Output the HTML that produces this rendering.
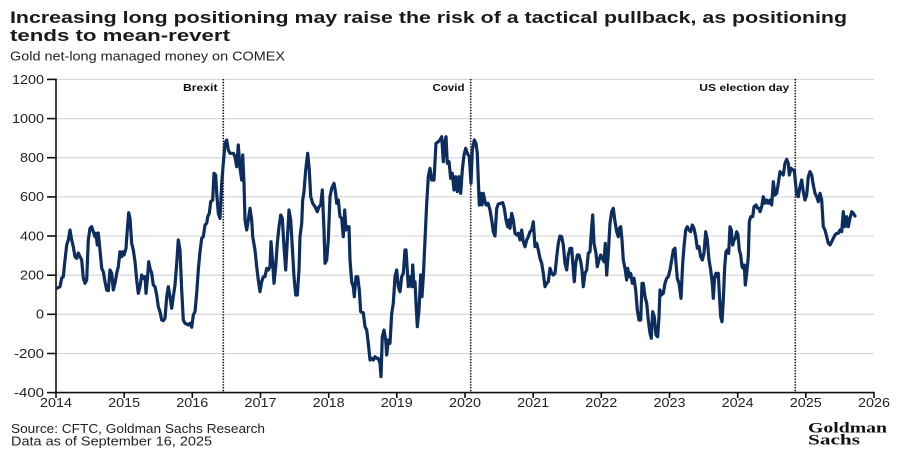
<!DOCTYPE html>
<html><head><meta charset="utf-8"><style>
html,body{margin:0;padding:0;background:#fff;}
svg{display:block;}
</style></head><body>
<svg width="900" height="451" viewBox="0 0 900 451" xmlns="http://www.w3.org/2000/svg" font-family="Liberation Sans, sans-serif">
<rect width="900" height="451" fill="#fff"/>
<!-- Title -->
<text x="10" y="23" font-size="17" font-weight="bold" fill="#1a1a1a" textLength="837" lengthAdjust="spacingAndGlyphs">Increasing long positioning may raise the risk of a tactical pullback, as positioning</text>
<text x="10" y="41" font-size="17" font-weight="bold" fill="#1a1a1a" textLength="220" lengthAdjust="spacingAndGlyphs">tends to mean-revert</text>
<text x="10" y="60.5" font-size="12.5" fill="#222" textLength="275" lengthAdjust="spacingAndGlyphs">Gold net-long managed money on COMEX</text>

<!-- gridlines -->
<g stroke="#d9d9d9" stroke-width="1.3">
<line x1="56" y1="79.4" x2="874" y2="79.4"/>
<line x1="56" y1="118.6" x2="874" y2="118.6"/>
<line x1="56" y1="157.7" x2="874" y2="157.7"/>
<line x1="56" y1="196.9" x2="874" y2="196.9"/>
<line x1="56" y1="236" x2="874" y2="236"/>
<line x1="56" y1="275.2" x2="874" y2="275.2"/>
<line x1="56" y1="314.3" x2="874" y2="314.3"/>
<line x1="56" y1="353.5" x2="874" y2="353.5"/>
</g>

<!-- y labels -->
<g font-size="12.5" fill="#222" text-anchor="end">
<text x="44" y="84" textLength="32" lengthAdjust="spacingAndGlyphs">1200</text>
<text x="44" y="123" textLength="32" lengthAdjust="spacingAndGlyphs">1000</text>
<text x="44" y="162" textLength="24" lengthAdjust="spacingAndGlyphs">800</text>
<text x="44" y="201" textLength="24" lengthAdjust="spacingAndGlyphs">600</text>
<text x="44" y="240.5" textLength="24" lengthAdjust="spacingAndGlyphs">400</text>
<text x="44" y="279.5" textLength="24" lengthAdjust="spacingAndGlyphs">200</text>
<text x="44" y="318.5" textLength="8" lengthAdjust="spacingAndGlyphs">0</text>
<text x="44" y="358" textLength="30" lengthAdjust="spacingAndGlyphs">-200</text>
<text x="44" y="397" textLength="30" lengthAdjust="spacingAndGlyphs">-400</text>
</g>

<!-- axes -->
<g stroke="#111" stroke-width="1.6">
<line x1="56" y1="78.5" x2="56" y2="393"/>
<line x1="55" y1="392.6" x2="874.5" y2="392.6"/>
<line x1="47" y1="79.4" x2="56" y2="79.4"/>
<line x1="47" y1="118.6" x2="56" y2="118.6"/>
<line x1="47" y1="157.7" x2="56" y2="157.7"/>
<line x1="47" y1="196.9" x2="56" y2="196.9"/>
<line x1="47" y1="236" x2="56" y2="236"/>
<line x1="47" y1="275.2" x2="56" y2="275.2"/>
<line x1="47" y1="314.3" x2="56" y2="314.3"/>
<line x1="47" y1="353.5" x2="56" y2="353.5"/>
<line x1="47" y1="392.6" x2="56" y2="392.6"/>
<line x1="56" y1="392" x2="56" y2="398"/>
<line x1="124.2" y1="392" x2="124.2" y2="398"/>
<line x1="192.3" y1="392" x2="192.3" y2="398"/>
<line x1="260.5" y1="392" x2="260.5" y2="398"/>
<line x1="328.7" y1="392" x2="328.7" y2="398"/>
<line x1="396.8" y1="392" x2="396.8" y2="398"/>
<line x1="465" y1="392" x2="465" y2="398"/>
<line x1="533.2" y1="392" x2="533.2" y2="398"/>
<line x1="601.3" y1="392" x2="601.3" y2="398"/>
<line x1="669.5" y1="392" x2="669.5" y2="398"/>
<line x1="737.7" y1="392" x2="737.7" y2="398"/>
<line x1="805.8" y1="392" x2="805.8" y2="398"/>
<line x1="874" y1="392" x2="874" y2="398"/>
</g>

<!-- x labels -->
<g font-size="12.5" fill="#222" text-anchor="middle">
<text x="56" y="407" textLength="32" lengthAdjust="spacingAndGlyphs">2014</text>
<text x="124.2" y="407" textLength="32" lengthAdjust="spacingAndGlyphs">2015</text>
<text x="192.3" y="407" textLength="32" lengthAdjust="spacingAndGlyphs">2016</text>
<text x="260.5" y="407" textLength="32" lengthAdjust="spacingAndGlyphs">2017</text>
<text x="328.7" y="407" textLength="32" lengthAdjust="spacingAndGlyphs">2018</text>
<text x="396.8" y="407" textLength="32" lengthAdjust="spacingAndGlyphs">2019</text>
<text x="465" y="407" textLength="32" lengthAdjust="spacingAndGlyphs">2020</text>
<text x="533.2" y="407" textLength="32" lengthAdjust="spacingAndGlyphs">2021</text>
<text x="601.3" y="407" textLength="32" lengthAdjust="spacingAndGlyphs">2022</text>
<text x="669.5" y="407" textLength="32" lengthAdjust="spacingAndGlyphs">2023</text>
<text x="737.7" y="407" textLength="32" lengthAdjust="spacingAndGlyphs">2024</text>
<text x="805.8" y="407" textLength="32" lengthAdjust="spacingAndGlyphs">2025</text>
<text x="874" y="407" textLength="32" lengthAdjust="spacingAndGlyphs">2026</text>
</g>

<!-- event lines -->
<g stroke="#111" stroke-width="1.6" stroke-dasharray="1.4,1.4">
<line x1="223.3" y1="79" x2="223.3" y2="392"/>
<line x1="470.7" y1="79" x2="470.7" y2="392"/>
<line x1="795.3" y1="79" x2="795.3" y2="392"/>
</g>
<g font-size="10.5" font-weight="bold" fill="#111" text-anchor="end">
<text x="217.5" y="91" textLength="34.5" lengthAdjust="spacingAndGlyphs">Brexit</text>
<text x="464.5" y="91" textLength="32" lengthAdjust="spacingAndGlyphs">Covid</text>
<text x="789.3" y="91" textLength="90" lengthAdjust="spacingAndGlyphs">US election day</text>
</g>

<!-- series -->
<polyline fill="none" stroke="#0e2d5f" stroke-width="3.2" stroke-linejoin="round" stroke-linecap="round" points="
56.7,288.3 60,286.7 61.7,278 63.3,276.7 65,260 66.7,245 68.3,240 70,230 71.7,240 73.3,246.7 75,256.7 76.7,258.3 78.3,253 80,256.7 81.7,260 83.3,278 85,283.3 86.7,280 88.3,240 90,228.3 91.7,226.7 93.3,231.7 95,236.7 96,233.3 97.3,245 98.3,233 100,250 101.7,268.3 103.3,271.7 105,281.7 106.7,290 108.3,290.7 110,270 111.7,273.3 113.3,290 115,283.3 116.7,273.3 118.3,266.7 120,251.7 121.7,256.7 122.7,251.7 124,255 126,248.3 127.3,230 128.7,212.7 130,218.3 131.7,243.3 133.3,250 135,261.7 136.7,280 138.3,293.3 140,286.7 141.7,275 143.3,278.3 145,276.7 146,293.3 147.3,280 148.7,261.7 150,268.3 151.7,273.3 153.3,285 155,286.7 156.7,295 158.3,306.7 160,311.7 161.7,320 163.3,320.7 165,318.3 166.7,296.7 168.3,286.7 170,296.7 171.7,308.3 173.3,296.7 175,285 176.7,263.3 178.3,240 180,250 181.7,290 183.3,320 185,323.3 186.7,324 188.3,325 190,323.3 191.7,327.3 193.3,315 195,311.7 196.7,293.3 198.3,270 200,251.7 201.7,238.3 203.3,236.7 205,225 206.7,223.3 207.7,216.7 209.3,213.3 210.7,201.7 212.7,200 214,173.3 215.7,175 216.7,193.3 218.3,213.3 220,218.3 221.7,183.3 223.3,163.3 225,143.3 226.7,140 228.3,150
230,153.3 233.3,153.3 235,156.7 236.7,166.7 238.3,145 240,168.3 241.7,180 242.7,155 244,183.3 245,220 246.7,230 248.3,220 250,208.3 251.7,220 252.7,236.7 255,250 256.7,266.7 258.3,280 260,291.7 261.7,281.7 263.3,276.7 265,276.7 266.7,268.3 268.3,270 270,266.7 271,241.7 272.7,263.3 274,283.3 275.7,266.7 277.3,243.3 279,226.7 280.7,215 282.3,218.3 284,246.7 285.7,270 287.3,240 289,210 290.7,220 292.3,246.7 294,276.7 295.7,295 297.3,295 299,270 300,236.7 301.7,223.3 302.7,200 304,191.7 305.7,170 307.7,153.3 309.3,170 310.7,196.7 312.7,203.3 315,206.7 317.3,211.7 319,206.7 320.7,205 322.3,190 324,230 325,263.3 326.7,260 328.3,240 330,196.7 331.7,188.3 334,183.3 335.7,193.3 336.7,203.3 338.3,200 340,216.7 341.7,218.3 343.3,236.7 344.7,210 346,230 347.3,226.7 349,226.7 350,260 351.7,281.7 353.3,286.7 354.3,296.7 356,276.7 357.7,276.7 359.3,290 360.7,311.7 363.3,312.7 365,326.7 366.7,330 368.3,343.3 370,360 371.7,358.3 373.3,360 375,356.7 376.7,358.3 378.3,358.3 380,363.3 381,376.7 382.3,336.7 384,330 385.7,340 386.7,355 388.3,340 390,343.3 391.7,313.3 393.3,303.3 395,276.7 396.7,270 398.3,286.7 400,291.7 401.7,276.7 403.3,273.3 405,250 406,250 407.3,270 408.3,286.7
410,276.7 411.7,286.7 412.7,265 414,286.7 415,281.7 416,303.3 417.3,326.7 419,310 420.7,275 422,296.7 423.3,276.7 425,240 426.7,203.3 428.3,176.7 430,168.3 431.7,180 434,180 436,143.3 438.3,141.7 440,140 441.7,136.7 443.3,161.7 444.7,143.3 446,136.7 447.3,163.3 449,161.7 450.7,178.3 452.3,173.3 454,190 455.7,176.7 457.3,191.7 459,176.7 460.7,193.3 462.3,170 464,155 465.7,148.3 467.3,153.3 469.3,156.7 471,183.3 472.3,150 474.3,140 476,143.3 477.3,153.3 478.3,180 479.3,205 480.7,193.3 482,205 483.3,193.3 484.7,200 486,205 488,203.3 490,210 491.7,220 493.3,231.7 495,236 496.7,208.3 498.3,204 500.7,203.3 502.7,202.7 504.3,208.3 506,220 507.7,226.7 509,220 510,228.3 511.7,213.3 513.3,220 515,233.3 516.7,235 518.3,233.3 520,240 521.7,230 523.3,241.7 525,246.7 526.7,240 528.3,236.7 530,231.7 531.7,230 533.3,221.7 535,246.7 536.7,243.3 538.3,250 540,258.3 541.7,263.3 543.3,273.3 545,286.7 546.7,283.3 548.3,281.7 550,268.3 551.7,273.3 553.3,275 555,273.3 556.7,256.7 558.3,243.3 560,236 561.7,236.7 563.3,245 565,263.3 566.7,270 568.3,255 570,248.3 571.7,248.3 573.3,270 574.3,281.7 575.7,263.3 577.3,255 579,255 580.7,261.7 582,270 583.3,286.7 585,273.3 586.7,270 588.3,253.3
590,251.7 591.7,226.7 592.7,215 594,243.3 596,253.3 597.3,266.7 599,260 600.7,255 602.3,258.3 604,261.7 605.3,243.3 606.7,275 608.3,253.3 610,223.3 611.7,211.7 613.3,208.3 615,221.7 616.7,231.7 618.3,236.7 619.3,228.3 620.7,226.7 622,240 623.3,260 625,268.3 626.7,280 627.7,268.3 629.3,276.7 630.7,273.3 632.3,283.3 634,278.3 635.7,290 637.3,310 639,320 640.7,320 642,283.3 643.3,283.3 645,296.7 646.7,303.3 648.3,320 650,333.3 651.3,338.3 652.7,311.7 654.3,316.7 656,335 657.7,336.7 659,316.7 660,290 661.3,295 663.3,293.3 665,283.3 666.7,278.3 668.3,276.7 670,270 671.7,260 673.3,250 675,248.3 676,263.3 677.3,278.3 679,283.3 681,298.3 682.7,263.3 684,246.7 685.7,230 687.3,226.7 689,230 690.7,231.7 692.3,225 694,228.3 695.7,236.7 697.3,248.3 699,246.7 700.7,256.7 702.3,260 704,253.3 705.7,231.7 707.3,240 709,260 710.7,270 712.3,283.3 713.3,298.3 714.7,276.7 716,273.3 717.3,276.7 718.3,273.3 719.3,293.3 720.7,316.7 722,321.7 723.3,300 724.7,266.7 726,251.7 727.3,250 728.7,253.3 730,226.7 731.3,230 732.7,245 734,240 735.3,238.3 736.7,231.7 738,235 739.3,250 740.7,255 742,266.7 743.3,268.3 744.3,265 745.3,285 746.7,273.3 748.3,256.7 749.3,221.7 750.7,216.7 752.7,216.7 754,206.7 756,205 757.7,208.3 759.3,208.3
760,211.7 761.7,206.7 763.3,196.7 765,203.3 766.7,200 768.3,203.3 770,200 771.7,205 773.3,181.7 775,195 776.7,193.3 778.3,183.3 780,171.7 781.7,173.3 783.3,175 785,163.3 786.7,159.3 788.3,163.3 789.3,175 791,168.3 792.7,170 794.3,170 795.7,185 796.7,195 798.3,196.7 800,186.7 801.7,180 803.3,191.7 805,200 806.7,195 808.3,176.7 810,171.7 811.7,175 813.3,185 815,193.3 816.7,196.7 818.3,201.7 820,193.3 821.7,200 823.3,226.7 825,230 826.7,236.7 828.3,243.3 830,245 831.7,241.7 833.3,238.3 835,235 836.7,233.3 838.3,233.3 840,230 841.7,231.7 843.3,211.7 845,226.7 846.7,216.7 848.3,226.7 850,218.3 851.7,211.7 853.3,213.3 855,216"/>

<!-- footer -->
<text x="11" y="433" font-size="12.5" fill="#222" textLength="254" lengthAdjust="spacingAndGlyphs">Source: CFTC, Goldman Sachs Research</text>
<text x="11" y="445.5" font-size="12.5" fill="#222" textLength="201" lengthAdjust="spacingAndGlyphs">Data as of September 16, 2025</text>
<text x="808" y="432.5" font-family="Liberation Serif, serif" font-weight="bold" font-size="15" fill="#111" textLength="79" lengthAdjust="spacingAndGlyphs">Goldman</text>
<text x="808" y="444.5" font-family="Liberation Serif, serif" font-weight="bold" font-size="15" fill="#111" textLength="52" lengthAdjust="spacingAndGlyphs">Sachs</text>
</svg>
</body></html>
